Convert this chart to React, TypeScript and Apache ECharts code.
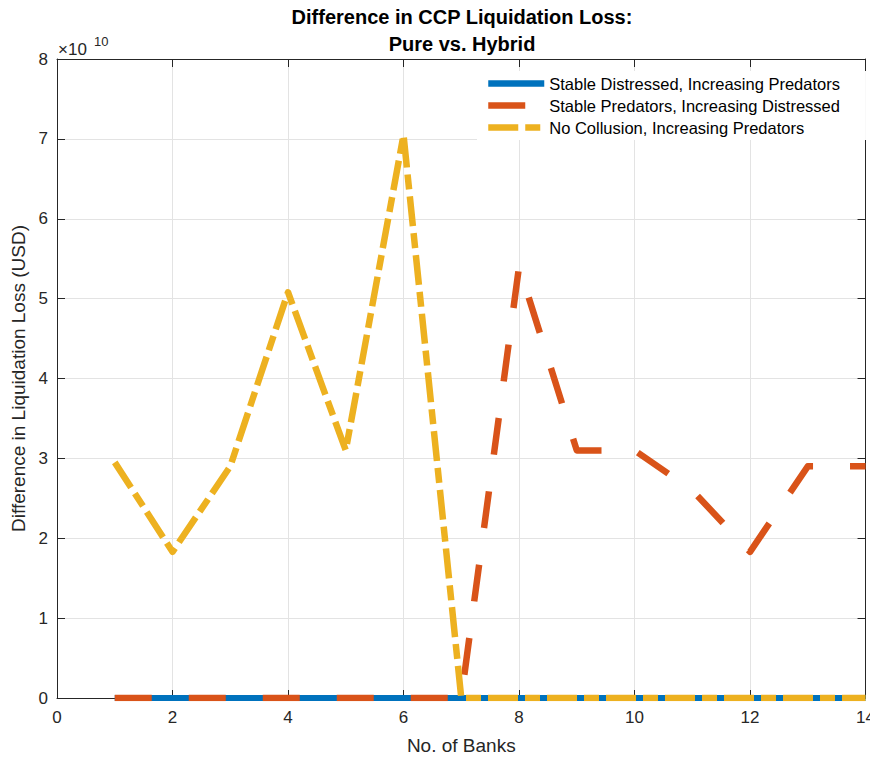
import React, { useEffect, useRef } from "react";
import * as echarts from "echarts";

const banks = [1, 2, 3, 4, 5, 6, 7, 8, 9, 10, 11, 12, 13, 14];
const stableDistressed = [0, 0, 0, 0, 0, 0, 0, 0, 0, 0, 0, 0, 0, 0];
const stablePredators = [0, 0, 0, 0, 0, 0, 0, 5.4e10, 3.1e10, 3.1e10, 2.6e10, 1.83e10, 2.9e10, 2.9e10];
const noCollusion = [2.95e10, 1.83e10, 2.9e10, 5.08e10, 3.1e10, 7.05e10, 0, 0, 0, 0, 0, 0, 0, 0];
const xTicks = [0, 2, 4, 6, 8, 10, 12, 14];
const yTicks = [0, 1, 2, 3, 4, 5, 6, 7, 8];

const seriesNames = [
  "Stable Distressed, Increasing Predators",
  "Stable Predators, Increasing Distressed",
  "No Collusion, Increasing Predators",
];

const FONT = "Liberation Sans, Arial, Helvetica, sans-serif";
const AXIS = "#262626";
const GRID = "#e3e3e3";

export default function App() {
  const ref = useRef<HTMLDivElement>(null);
  useEffect(() => {
    if (!ref.current) return;
    const chart = echarts.init(ref.current, undefined, { renderer: "svg" });
    const pairs = (ys: number[]) => banks.map((b, i) => [b, ys[i]]);
    const axisCommon = {
      axisLine: { show: true, onZero: false, lineStyle: { color: AXIS, width: 1 } },
      axisTick: { show: true, inside: true, length: 8, lineStyle: { color: AXIS } },
    };
    chart.setOption({
      animation: false,
      backgroundColor: "#ffffff",
      textStyle: { fontFamily: FONT },
      title: {
        text: "Difference in CCP Liquidation Loss:\nPure vs. Hybrid",
        left: 462,
        top: 3,
        padding: 0,
        textAlign: "center",
        textStyle: { fontFamily: FONT, fontWeight: "bold", fontSize: 20, color: "#000", lineHeight: 27 },
      },
      grid: { left: 57, right: 10, top: 59, bottom: 61, containLabel: false },
      legend: {
        orient: "vertical",
        left: 477,
        top: 71,
        padding: [4, 26, 4, 8],
        itemGap: 5,
        itemWidth: 56,
        itemHeight: 16,
        backgroundColor: "#ffffff",
        textStyle: { fontFamily: FONT, fontSize: 16.5, color: "#000" },
        lineStyle: { width: 6.5, inherit: true },
        itemStyle: { opacity: 0 },
        data: seriesNames,
      },
      xAxis: [
        {
          type: "value",
          min: 0,
          max: 14,
          interval: 2,
          name: "No. of Banks",
          nameLocation: "middle",
          nameGap: 38,
          nameTextStyle: { fontFamily: FONT, fontSize: 19, color: AXIS },
          axisLabel: { fontFamily: FONT, fontSize: 17, color: AXIS, margin: 11, customValues: xTicks },
          splitLine: { show: true, lineStyle: { color: GRID, width: 1 } },
          ...axisCommon,
        },
        {
          type: "value",
          position: "top",
          min: 0,
          max: 14,
          interval: 2,
          axisLabel: { show: false },
          splitLine: { show: false },
          ...axisCommon,
        },
      ],
      yAxis: [
        {
          type: "value",
          min: 0,
          max: 8e10,
          interval: 1e10,
          name: "Difference in Liquidation Loss (USD)",
          nameLocation: "middle",
          nameGap: 27,
          nameTextStyle: { fontFamily: FONT, fontSize: 19, color: AXIS },
          axisLabel: {
            fontFamily: FONT,
            fontSize: 17,
            color: AXIS,
            margin: 9,
            formatter: (v: number) => {
              const t = Math.round(v / 1e10);
              return yTicks.includes(t) ? String(t) : "";
            },
          },
          splitLine: { show: true, lineStyle: { color: GRID, width: 1 } },
          ...axisCommon,
        },
        {
          type: "value",
          position: "right",
          min: 0,
          max: 8e10,
          interval: 1e10,
          axisLabel: { show: false },
          splitLine: { show: false },
          ...axisCommon,
        },
      ],
      graphic: [
        {
          type: "text",
          left: 58,
          top: 41,
          style: { text: "×10", font: `17px ${FONT}`, fill: AXIS },
        },
        {
          type: "text",
          left: 94,
          top: 35,
          style: { text: "10", font: `13px ${FONT}`, fill: AXIS },
        },
      ],
      series: [
        {
          name: seriesNames[0],
          type: "line",
          data: pairs(stableDistressed),
          symbol: "none",
          lineStyle: { color: "#0072BD", width: 6, type: "solid" },
          itemStyle: { color: "#0072BD" },
          z: 2,
        },
        {
          name: seriesNames[1],
          type: "line",
          data: pairs(stablePredators),
          symbol: "none",
          lineStyle: { color: "#D95319", width: 6.5, type: [37, 37], cap: "butt", join: "round" },
          itemStyle: { color: "#D95319" },
          z: 3,
        },
        {
          name: seriesNames[2],
          type: "line",
          data: pairs(noCollusion),
          symbol: "none",
          lineStyle: { color: "#EDB120", width: 6.5, type: [30, 7, 15, 7], cap: "butt", join: "round" },
          itemStyle: { color: "#EDB120" },
          z: 4,
        },
      ],
    });
    return () => chart.dispose();
  }, []);
  return <div ref={ref} style={{ width: 878, height: 760, margin: -8 }} />;
}
